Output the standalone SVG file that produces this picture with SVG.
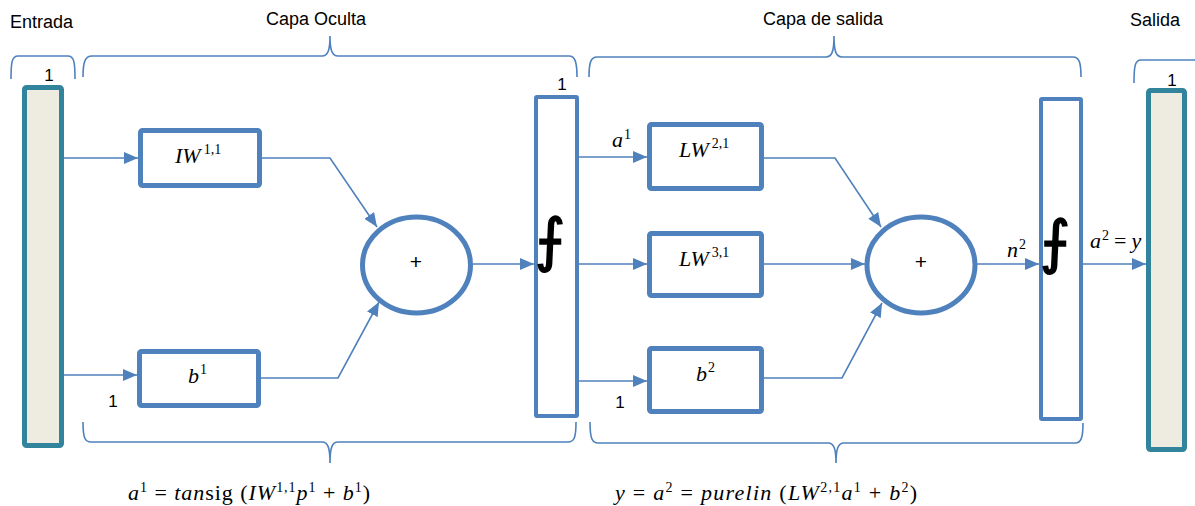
<svg xmlns="http://www.w3.org/2000/svg" width="1195" height="506" viewBox="0 0 1195 506">
<style>
.lbl{font-family:"Liberation Sans",Arial,sans-serif;font-size:18px;fill:#000}
.one{font-family:"Liberation Sans",Arial,sans-serif;font-size:17px;fill:#000}
.m{font-family:"Liberation Serif","Times New Roman",serif;font-size:22px;font-style:italic;fill:#000}
.up{font-style:normal}
.sup{font-style:normal;font-size:14px}
.f{font-family:"Liberation Sans",Arial,sans-serif;font-size:21px;fill:#000}
.fx{font-family:"DejaVu Sans",sans-serif;font-size:58px;fill:#000;stroke:#000;stroke-width:1.6}
.br{fill:none;stroke:#4F81BD;stroke-width:1.6}
.con{fill:none;stroke:#4F81BD;stroke-width:1.6;marker-end:url(#arr)}
.box{fill:#fff;stroke:#4F81BD;stroke-width:5}
.col{fill:#fff;stroke:#4F81BD;stroke-width:4}
.io{fill:#EEECE1;stroke:#31849B;stroke-width:5}
</style>
<defs>
<marker id="arr" viewBox="0 0 14 12" refX="14" refY="6" markerWidth="14" markerHeight="12" markerUnits="userSpaceOnUse" orient="auto"><path d="M0,0 L14,6 L0,12 z" fill="#4F81BD"/></marker>
</defs>
<rect width="1195" height="506" fill="#fff"/>

<g id="titles">
<text class="lbl" x="10" y="28">Entrada</text>
<text class="lbl" x="316" y="25" text-anchor="middle">Capa Oculta</text>
<text class="lbl" x="823" y="25" text-anchor="middle">Capa de salida</text>
<text class="lbl" x="1130" y="26">Salida</text>
</g>

<g id="brackets">
<path class="br" d="M11,79 C11,62 12,56 18,56 L68,56 C74,56 75,62 75,79"/>
<path class="br" d="M83,77 C83,62 85,56 92,56 L322,56 C328,56 330,50 330,36 C330,50 332,56 338,56 L569,56 C575,56 577,62 577,77"/>
<path class="br" d="M589,77 C589,62 591,57 597,57 L826,57 C832,57 834,51 834,36 C834,51 836,57 842,57 L1073,57 C1079,57 1081,62 1081,77"/>
<path class="br" d="M1134,83 C1134,66 1135,60 1141,60 L1196,60"/>
<path class="br" d="M83,422 C83,438 85,442 91,442 L322,442 C328,442 330,448 330,463 C330,448 332,442 338,442 L568,442 C574,442 576,438 576,422"/>
<path class="br" d="M590,422 C590,438 592,443 598,443 L828,443 C834,443 836,449 836,463 C836,449 838,443 844,443 L1075,443 C1081,443 1083,438 1083,423"/>
</g>

<g id="connectors">
<line class="con" x1="64" y1="158" x2="138" y2="158"/>
<line class="con" x1="64" y1="375" x2="137" y2="375"/>
<polyline class="con" points="262,158 330,158 377,227"/>
<polyline class="con" points="261,378 338,378 379,302"/>
<line class="con" x1="473" y1="264" x2="534" y2="264"/>
<line class="con" x1="579" y1="157" x2="647" y2="157"/>
<line class="con" x1="579" y1="264" x2="647" y2="264"/>
<line class="con" x1="579" y1="381" x2="647" y2="381"/>
<polyline class="con" points="764,158 835,158 881,227"/>
<line class="con" x1="764" y1="264" x2="865" y2="264"/>
<polyline class="con" points="764,378 842,378 882,303"/>
<line class="con" x1="977" y1="264" x2="1039" y2="264"/>
<line class="con" x1="1083" y1="264" x2="1146" y2="264"/>
</g>

<g id="entrada">
<rect class="io" x="24.5" y="87.5" width="37" height="358" rx="2"/>
<text class="one" x="49" y="81" text-anchor="middle">1</text>
</g>

<g id="salida">
<rect class="io" x="1148.5" y="90.5" width="36" height="359" rx="2"/>
<text class="one" x="1172" y="86" text-anchor="middle">1</text>
</g>

<g id="IW">
<rect class="box" x="140.5" y="130.5" width="119" height="55" rx="2"/>
<text class="m" x="175" y="163">IW<tspan class="sup" dx="3" dy="-9">1,1</tspan></text>
</g>

<g id="b1">
<rect class="box" x="139.5" y="351.5" width="119" height="54" rx="2"/>
<text class="m" x="188" y="383">b<tspan class="sup" dx="1" dy="-9">1</tspan></text>
<text class="one" x="113" y="407" text-anchor="middle">1</text>
</g>

<g id="sum1">
<ellipse cx="416.5" cy="265" rx="54" ry="48" fill="#fff" stroke="#4F81BD" stroke-width="5"/>
<text class="f" x="416" y="269" text-anchor="middle">+</text>
</g>

<g id="tansig">
<rect class="col" x="536" y="97" width="41" height="319" rx="1"/>
<text class="fx" x="535" y="260">⨍</text>
<text class="one" x="562" y="90" text-anchor="middle">1</text>
</g>

<g id="LW21">
<rect class="box" x="649.5" y="124.5" width="112" height="64" rx="2"/>
<text class="m" x="679" y="157">LW<tspan class="sup" dx="3" dy="-9">2,1</tspan></text>
<text class="m" x="612" y="147">a<tspan class="sup" dx="1" dy="-8">1</tspan></text>
</g>

<g id="LW31">
<rect class="box" x="649.5" y="233.5" width="112" height="62" rx="2"/>
<text class="m" x="679" y="266">LW<tspan class="sup" dx="3" dy="-9">3,1</tspan></text>
</g>

<g id="b2">
<rect class="box" x="649.5" y="348.5" width="112" height="63" rx="2"/>
<text class="m" x="696" y="381">b<tspan class="sup" dx="1" dy="-9">2</tspan></text>
<text class="one" x="620" y="408" text-anchor="middle">1</text>
</g>

<g id="sum2">
<ellipse cx="921" cy="265" rx="54" ry="48" fill="#fff" stroke="#4F81BD" stroke-width="5"/>
<text class="f" x="921" y="269" text-anchor="middle">+</text>
<text class="m" x="1007" y="257">n<tspan class="sup" dx="1" dy="-8">2</tspan></text>
</g>

<g id="purelin">
<rect class="col" x="1041" y="99" width="40" height="320" rx="1"/>
<text class="fx" x="1040" y="262">⨍</text>
<text class="m" x="1090" y="248">a<tspan class="sup" dx="1" dy="-8">2</tspan><tspan class="up" dx="5" dy="8">=</tspan><tspan dx="5">y</tspan></text>
</g>

<g id="formulas">
<text class="m" x="128" y="500" font-size="20" textLength="242" lengthAdjust="spacing">a<tspan class="sup" dy="-8">1</tspan><tspan class="up" dy="8"> = </tspan>tan<tspan class="up">sig (</tspan>IW<tspan class="sup" dy="-8">1,1</tspan><tspan dy="8">p</tspan><tspan class="sup" dy="-8">1</tspan><tspan class="up" dy="8"> + </tspan>b<tspan class="sup" dy="-8">1</tspan><tspan class="up" dy="8">)</tspan></text>
<text class="m" x="615" y="500" font-size="20" textLength="302" lengthAdjust="spacing">y<tspan class="up"> = </tspan>a<tspan class="sup" dy="-8">2</tspan><tspan class="up" dy="8"> = </tspan>purelin<tspan class="up"> (</tspan>LW<tspan class="sup" dy="-8">2,1</tspan><tspan dy="8">a</tspan><tspan class="sup" dy="-8">1</tspan><tspan class="up" dy="8"> + </tspan>b<tspan class="sup" dy="-8">2</tspan><tspan class="up" dy="8">)</tspan></text>
</g>
</svg>
